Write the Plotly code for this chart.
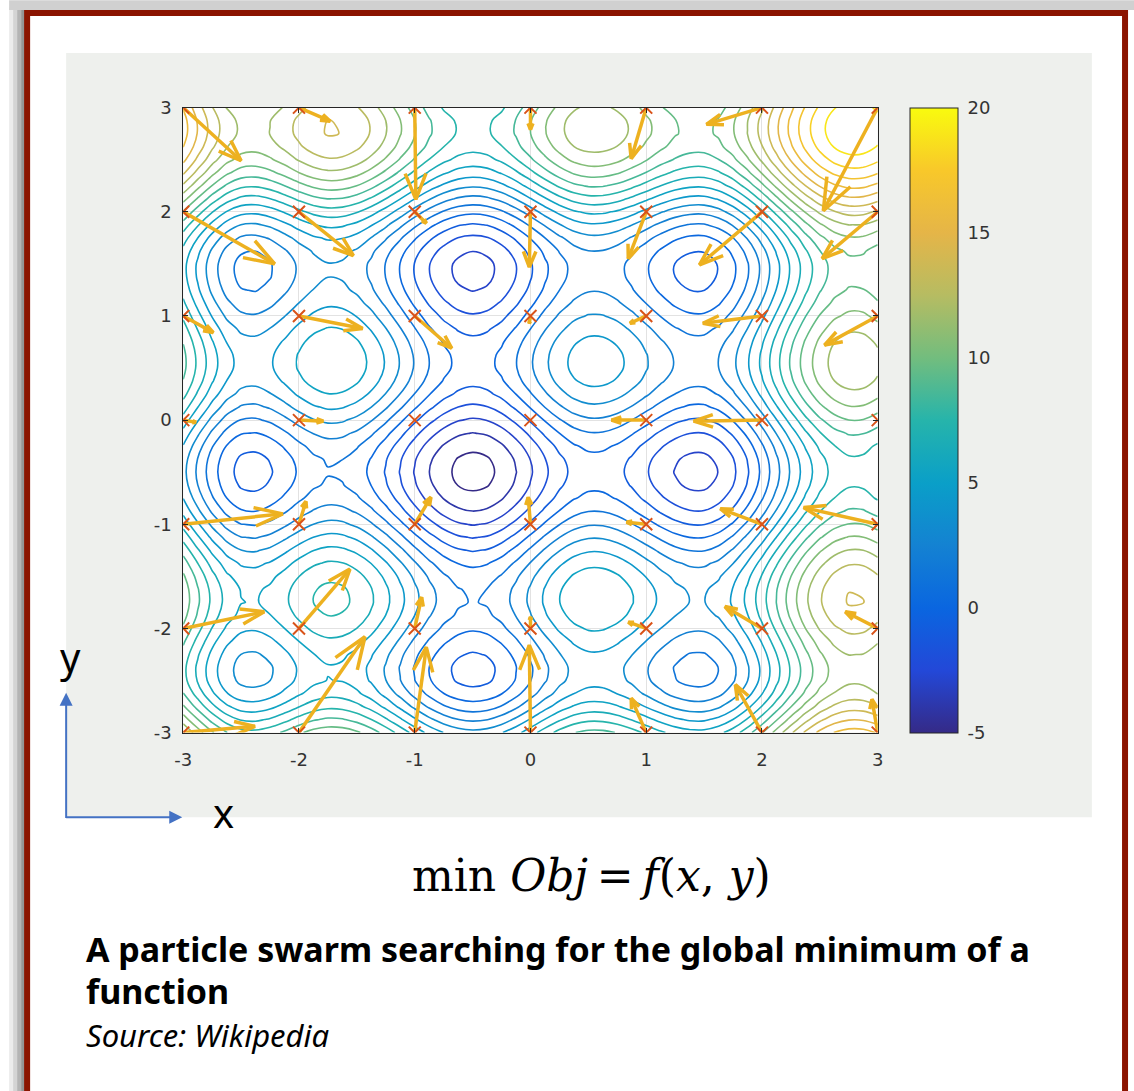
import math
import plotly.graph_objects as go
import plotly.figure_factory as ff

# figure size; the page adds an 8 px body margin around it
W, H, OFF = 1134, 1091, 8
SX, SY = (W + 2 * OFF) / W, (H + 2 * OFF) / H

# Objective surface: separable, f(x, y) = profile(x) + profile(y)
grid_pts = [-3.0 + 0.125 * k for k in range(49)]
profile = [6.50, 5.02, 3.63, 2.53, 1.89, 1.79, 2.10, 2.67, 3.33, 3.87, 4.14, 4.06, 3.66,
           2.99, 2.12, 1.14, 0.13, -0.79, -1.52, -2.01, -2.20, -2.05, -1.57, -0.83, 0.07,
           1.01, 1.84, 2.46, 2.77, 2.75, 2.45, 1.93, 1.30, 0.67, 0.15, -0.15, -0.17, 0.22,
           0.99, 2.09, 3.42, 4.88, 6.33, 7.66, 8.76, 9.53, 9.92, 9.88, 9.42]

level_start, level_end, level_step = -4, 20, 1
z_min, z_max = -5, 20
cbar_ticks = [-5, 0, 5, 10, 15, 20]
cbar_labels = ["-5", "0", "5", "10", "15", "20"]

# parula-like colour ramp
ramp_pos = [0.0, 0.1, 0.2, 0.3, 0.4, 0.5, 0.6, 0.7, 0.8, 0.9, 1.0]
ramp_col = ["#352a87", "#2348d8", "#0a66e0", "#1482d2", "#0a9fc8", "#26b4ab",
            "#72bd7e", "#b6bc62", "#e5b548", "#f8c82a", "#f9fb0e"]

axis_ticks = [-3, -2, -1, 0, 1, 2, 3]
axis_labels = ["-3", "-2", "-1", "0", "1", "2", "3"]

# particle positions and velocity vectors
part_x = [-3, -2, -1, 0, 1, 2, 3] * 7
part_y = [3] * 7 + [2] * 7 + [1] * 7 + [0] * 7 + [-1] * 7 + [-2] * 7 + [-3] * 7
vel_u = [0.50, 0.27, 0.01, 0.00, -0.13, -0.48, -0.47,
         0.79, 0.47, 0.10, -0.01, -0.155, -0.54, -0.48,
         0.26, 0.55, 0.32, -0.01, -0.14, -0.51, -0.46,
         0.11, 0.21, 0.00, 0.00, -0.30, -0.59, 0.00,
         0.86, 0.06, 0.14, -0.02, -0.17, -0.36, -0.64,
         0.70, 0.44, 0.06, 0.00, -0.155, -0.32, -0.28,
         0.62, 0.57, 0.10, -0.01, -0.13, -0.23, -0.05]
vel_v = [-0.51, -0.13, -0.88, -0.21, -0.49, -0.16, -0.99,
         -0.50, -0.42, -0.11, -0.53, -0.45, -0.51, -0.45,
         -0.16, -0.12, -0.31, -0.07, -0.07, -0.07, -0.28,
         -0.02, -0.01, 0.00, 0.00, 0.00, -0.01, 0.00,
         0.10, 0.22, 0.26, 0.26, 0.02, 0.15, 0.16,
         0.16, 0.57, 0.30, 0.11, 0.06, 0.21, 0.16,
         0.06, 0.92, 0.82, 0.84, 0.33, 0.46, 0.32]

z = [[profile[i] + profile[j] for i in range(len(grid_pts))] for j in range(len(grid_pts))]
colorscale = [[p, c] for p, c in zip(ramp_pos, ramp_col)]


def fx(px):
    """screen column -> paper fraction"""
    return (px * SX - OFF) / W


def fy(py):
    """screen row -> paper fraction"""
    return 1 - (py * SY - OFF) / H


fig = go.Figure()

fig.add_trace(go.Contour(
    x=grid_pts, y=grid_pts, z=z,
    zmin=z_min, zmax=z_max, colorscale=colorscale,
    contours=dict(coloring="lines", start=level_start, end=level_end, size=level_step),
    line=dict(width=1.6, smoothing=1.0),
    showscale=False, hoverinfo="skip",
))

quiv = ff.create_quiver(part_x, part_y, vel_u, vel_v, scale=1, arrow_scale=0.3,
                        angle=math.pi / 9, line=dict(width=3.5, color="#EDB120"))
for tr in quiv.data:
    tr.update(hoverinfo="skip", showlegend=False)
    fig.add_trace(tr)

fig.add_trace(go.Scatter(
    x=part_x, y=part_y, mode="markers",
    marker=dict(symbol="x-thin", size=12, line=dict(width=2, color="#D95319")),
    hoverinfo="skip", showlegend=False,
))

# colour bar
cb_x0, cb_x1, cb_top, cb_bot = 908, 955, 105, 733
fig.add_trace(go.Scatter(
    x=[0, 0], y=[0, 0], mode="markers",
    marker=dict(size=1, opacity=0, color=[z_min, z_max], cmin=z_min, cmax=z_max,
                colorscale=colorscale, showscale=True,
                colorbar=dict(x=fx(cb_x0), xanchor="left", y=fy(cb_bot), yanchor="bottom",
                              len=fy(cb_top) - fy(cb_bot), lenmode="fraction",
                              thickness=(cb_x1 - cb_x0) * SX, thicknessmode="pixels",
                              outlinecolor="#262626", outlinewidth=1,
                              ticks="outside", ticklen=6, tickcolor="rgba(0,0,0,0)",
                              tickvals=cbar_ticks, ticktext=cbar_labels, xpad=0, ypad=0,
                              tickfont=dict(family="DejaVu Sans", size=18, color="#333333"))),
    hoverinfo="skip", showlegend=False,
))

axis_common = dict(
    range=[-3, 3], tickvals=axis_ticks, ticktext=axis_labels,
    showgrid=True, gridcolor="#e2e2e2", gridwidth=1,
    showline=True, linecolor="#262626", linewidth=1, mirror="ticks",
    ticks="inside", ticklen=5, tickcolor="#262626", zeroline=False,
    tickfont=dict(family="DejaVu Sans", size=18, color="#333333"),
)
fig.update_layout(
    width=W, height=H, margin=dict(l=0, r=0, t=0, b=0),
    paper_bgcolor="white", plot_bgcolor="white", showlegend=False,
    xaxis=dict(domain=[fx(182), fx(876)], ticklabelstandoff=11, **axis_common),
    yaxis=dict(domain=[fy(cb_bot), fy(cb_top)], ticklabelstandoff=7, **axis_common),
)

shapes = []
# drop shadow of the frame
for x0, x1, col in [(8, 12, "#ececec"), (12, 16, "#d4d4d4"), (16, 20, "#b4b4b4"), (20, 24, "#959595")]:
    shapes.append(dict(type="rect", xref="paper", yref="paper", x0=fx(x0), x1=fx(x1),
                       y0=-0.01, y1=fy(4), fillcolor=col, line=dict(width=0), layer="below"))
shapes.append(dict(type="rect", xref="paper", yref="paper", x0=fx(8), x1=1.01,
                   y0=fy(7), y1=1.01, fillcolor="#d0d0d0", line=dict(width=0), layer="below"))
# dark red frame
shapes.append(dict(type="rect", xref="paper", yref="paper", x0=fx(26), x1=(W - 3) / W,
                   y0=-0.02, y1=fy(10), fillcolor="white",
                   line=dict(width=6, color="#8b1400"), layer="below"))
# grey figure panel and white axes area
shapes.append(dict(type="rect", xref="paper", yref="paper", x0=fx(65), x1=fx(1090),
                   y0=fy(818), y1=fy(50), fillcolor="#eef0ed", line=dict(width=0), layer="below"))
shapes.append(dict(type="rect", xref="paper", yref="paper", x0=fx(182), x1=fx(876),
                   y0=fy(cb_bot), y1=fy(cb_top), fillcolor="white", line=dict(width=0), layer="below"))
# inward tick marks on the colour bar
for v in cbar_ticks[1:-1]:
    ty = fy(cb_bot) + (v - z_min) / (z_max - z_min) * (fy(cb_top) - fy(cb_bot))
    shapes.append(dict(type="line", xref="paper", yref="paper", x0=fx(cb_x1 - 5), x1=fx(cb_x1),
                       y0=ty, y1=ty, line=dict(width=1, color="#262626"), layer="above"))
fig.update_layout(shapes=shapes)

ann = []
# coordinate-direction arrows
ann.append(dict(xref="paper", yref="paper", x=fx(65), y=fy(693), ax=0, ay=125 * SY, text="",
                showarrow=True, arrowhead=2, arrowsize=1.3, arrowwidth=2, arrowcolor="#4472C4"))
ann.append(dict(xref="paper", yref="paper", x=fx(181), y=fy(818), ax=-116 * SX, ay=0, text="",
                showarrow=True, arrowhead=2, arrowsize=1.3, arrowwidth=2, arrowcolor="#4472C4"))
ann.append(dict(xref="paper", yref="paper", x=fx(69), y=fy(657), text="y", showarrow=False,
                font=dict(family="Noto Sans", size=40, color="black"), xanchor="center", yanchor="middle"))
ann.append(dict(xref="paper", yref="paper", x=fx(222), y=fy(813), text="x", showarrow=False,
                font=dict(family="Noto Sans", size=40, color="black"), xanchor="center", yanchor="middle"))
ann.append(dict(xref="paper", yref="paper", x=fx(590), y=fy(877),
                text="min <i>Obj</i>\u2009=\u2009<i>f</i>(<i>x</i>, <i>y</i>)", showarrow=False,
                font=dict(family="DejaVu Serif", size=44, color="black"),
                xanchor="center", yanchor="middle"))
# caption block: title over two lines and the source line
caption = ("<b><span style='font-size:34px'>A particle swarm searching for the global minimum of a</span></b>"
           "<br><b><span style='font-size:34px'>function</span></b>"
           "<br><i><span style='font-size:31px'>Source: Wikipedia</span></i>")
ann.append(dict(xref="paper", yref="paper", x=fx(83), y=fy(993), text=caption, showarrow=False,
                align="left", font=dict(family="Noto Sans", size=32.5, color="black"),
                xanchor="left", yanchor="middle"))
fig.update_layout(annotations=ann)

fig.write_html("out.html")
